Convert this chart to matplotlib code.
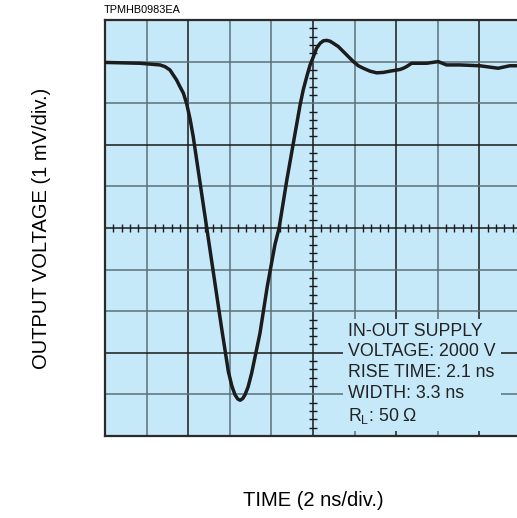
import numpy as np
import matplotlib
matplotlib.use("Agg")
import matplotlib.pyplot as plt

plt.rcParams['font.family'] = ['Liberation Sans', 'DejaVu Sans']

# trace: time in ns (2 ns/div), output in mV (1 mV/div)
time_ns = [0, 1.68, 2.64, 2.88, 3.12, 3.28, 3.44, 3.6, 3.77, 3.93, 4.09, 4.24,
           4.48, 4.72, 5.05, 5.29, 5.61, 5.93, 6.1, 6.25, 6.38, 6.5, 6.62, 6.73,
           6.88, 7.05, 7.45, 7.8, 8.17, 8.37, 8.74, 9.38, 9.53, 9.7, 9.86, 10.02,
           10.17, 10.34, 10.5, 10.66, 10.82, 10.98, 11.22, 11.46, 11.7, 11.94,
           12.18, 12.42, 12.74, 13.06, 13.38, 13.7, 14.18, 14.34, 14.5, 14.74,
           15.46, 16.02, 16.42, 17.06, 18.02, 18.9, 19.46, 19.78]
volt_mv = [3.98, 3.96, 3.92, 3.88, 3.8, 3.68, 3.56, 3.4, 3.24, 2.98, 2.62, 2.2,
           1.39, 0.58, -0.53, -1.34, -2.42, -3.45, -3.8, -4.01, -4.11, -4.14,
           -4.1, -4.01, -3.82, -3.49, -2.53, -1.41, -0.4, 0.0, 1.15, 2.96,
           3.32, 3.64, 3.92, 4.12, 4.32, 4.44, 4.5, 4.51, 4.49, 4.44, 4.36, 4.24,
           4.12, 4.0, 3.9, 3.84, 3.77, 3.73, 3.74, 3.77, 3.81, 3.84, 3.88, 3.96,
           3.96, 4.0, 3.92, 3.92, 3.9, 3.84, 3.9, 3.9]

note_lines = ["IN-OUT SUPPLY", "VOLTAGE: 2000 V", "RISE TIME: 2.1 ns",
              "WIDTH: 3.3 ns", r"R$_\mathregular{L}$: 50 Ω"]
code_label = "TPMHB0983EA"
x_label = "TIME (2 ns/div.)"
y_label = "OUTPUT VOLTAGE (1 mV/div.)"

bg = '#c6e9f9'
dark = '#1a1a1a'
grey = '#5c7079'

fig = plt.figure(figsize=(5.17, 5.18), dpi=100)
# the graticule runs past the right edge of the picture
ax = fig.add_axes([105 / 517, 82 / 518, 416 / 517, 416 / 518])
ax.set_facecolor(bg)
ax.set_xlim(0, 20)
ax.set_ylim(-5, 5)
ax.set_xticks([])
ax.set_yticks([])
for s in ax.spines.values():
    s.set_linewidth(1.6)
    s.set_color('#2a2a2a')

# graticule, some lines print darker than others
vcols = [grey, dark, grey, grey, dark, grey, dark, grey, dark]
for i, c in zip(range(1, 10), vcols):
    ax.axvline(i * 2, color=c, lw=1.1, zorder=1)
hcols = [grey, grey, dark, grey, dark, grey, grey, dark, grey]
for i, c in zip(range(1, 10), hcols):
    ax.axhline(5 - i, color=c, lw=1.1, zorder=1)

# minor ticks on the centre cross
ty = [v for v in np.arange(-5, 5.01, 0.2) if abs(v - round(v)) > 0.01]
ax.plot([10] * len(ty), ty, ls='none', marker='_', ms=6, mew=1.0, color=dark, zorder=2)
tx = [t for t in np.arange(0, 20.01, 0.4) if abs(t / 2 - round(t / 2)) > 0.01]
ax.plot(tx, [0] * len(tx), ls='none', marker='|', ms=6, mew=1.0, color=dark, zorder=2)

ax.plot(time_ns, volt_mv, color='#1c1c1c', lw=2.5, zorder=4,
        solid_capstyle='round', solid_joinstyle='round')

ax.text(11.68, -2.28, "\n".join(note_lines), fontsize=12.8, color='#222222',
        va='top', ha='left', linespacing=1.28, zorder=3,
        bbox=dict(boxstyle='square,pad=0.3', facecolor=bg, edgecolor='none'))

fig.text(104 / 517, 1 - 10 / 518, code_label, fontsize=7.8, va='center', ha='left')
fig.text(313 / 517, 1 - 501 / 518, x_label, fontsize=14.5, va='center', ha='center')
fig.text(42 / 517, 1 - 228 / 518, y_label, fontsize=14.5, va='center', ha='center',
         rotation=90)

fig.savefig('out.png', dpi=100)
